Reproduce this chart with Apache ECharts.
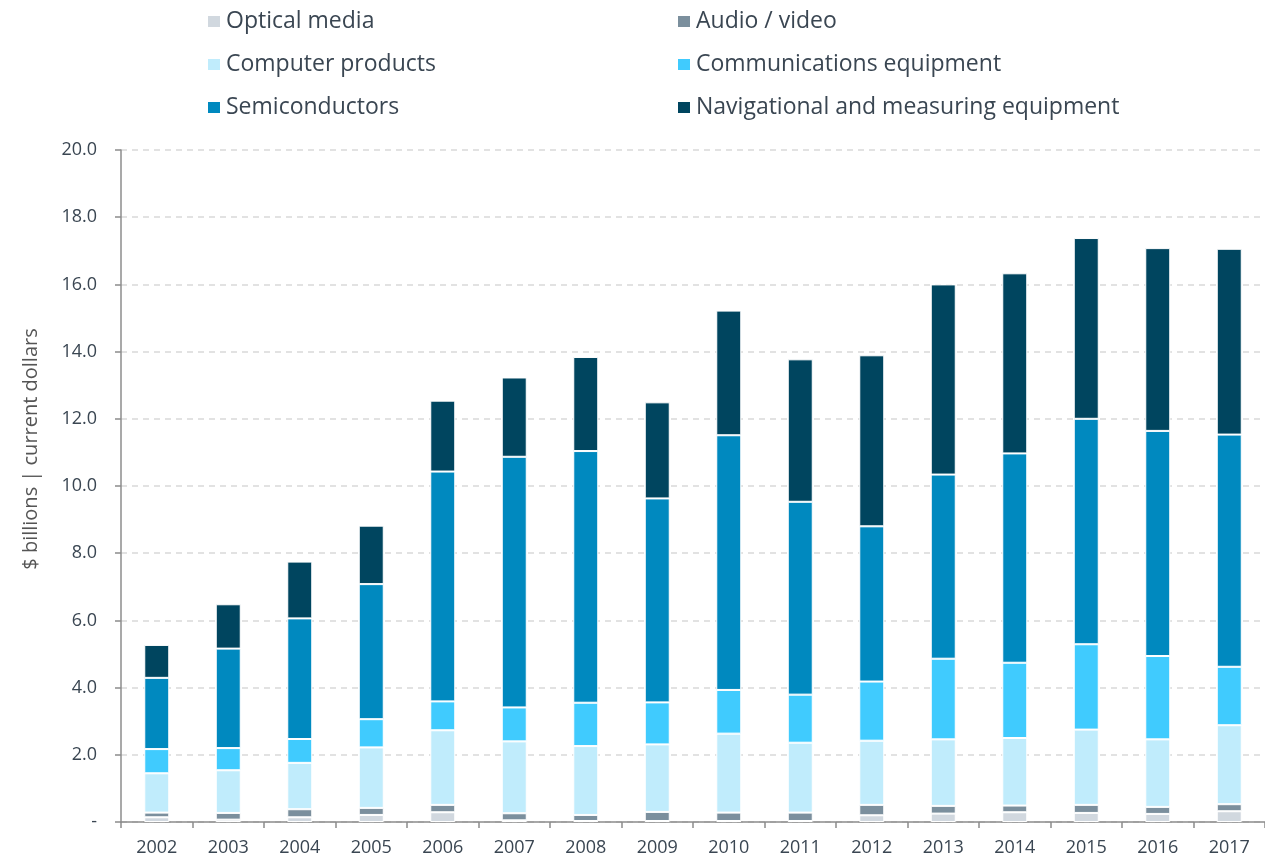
<!DOCTYPE html>
<html><head><meta charset="utf-8">
<script src="https://cdn.jsdelivr.net/npm/echarts@6/dist/echarts.min.js"></script>
<style>html,body{margin:0;padding:0;background:#fff}#c{width:1265px;height:860px}</style>
</head><body><div id="c"></div>
<script>
const years = ['2002','2003','2004','2005','2006','2007','2008','2009','2010','2011','2012','2013','2014','2015','2016','2017'];
const opticalMedia   = [0.14,0.07,0.14,0.21,0.29,0.05,0.03,0.03,0.03,0.03,0.20,0.25,0.29,0.27,0.24,0.32];
const audioVideo     = [0.14,0.20,0.24,0.21,0.22,0.21,0.18,0.27,0.25,0.25,0.31,0.23,0.20,0.24,0.21,0.21];
const computerProducts = [1.17,1.27,1.38,1.80,2.22,2.14,2.05,2.01,2.35,2.08,1.91,1.98,2.01,2.24,2.01,2.35];
const commEquipment  = [0.72,0.66,0.71,0.84,0.86,1.01,1.29,1.25,1.30,1.43,1.76,2.40,2.24,2.54,2.48,1.74];
const semiconductors = [2.12,2.96,3.59,4.02,6.84,7.46,7.49,6.07,7.58,5.74,4.62,5.48,6.23,6.71,6.70,6.91];
const navMeasuring   = [0.98,1.32,1.69,1.74,2.11,2.36,2.80,2.86,3.71,4.24,5.09,5.66,5.36,5.38,5.44,5.53];
const yTicks = ['-','2.0','4.0','6.0','8.0','10.0','12.0','14.0','16.0','18.0','20.0'];

const seriesDefs = [
  ['Optical media', opticalMedia, '#d1d8df'],
  ['Audio / video', audioVideo, '#7b8f9d'],
  ['Computer products', computerProducts, '#c0ecfc'],
  ['Communications equipment', commEquipment, '#40cbfe'],
  ['Semiconductors', semiconductors, '#0089bf'],
  ['Navigational and measuring equipment', navMeasuring, '#00455f']
];
const font = 'Open Sans';
const txt = '#3a4652';
const chart = echarts.init(document.getElementById('c'));
const legendCommon = {
  orient: 'vertical', itemWidth: 14, itemHeight: 13, itemGap: 20, icon: 'rect',
  textStyle: {fontFamily: font, fontSize: 23, color: txt, lineHeight: 23},
  selectedMode: false
};
chart.setOption({
  animation: false,
  color: seriesDefs.map(d => d[2]),
  legend: [
    Object.assign({left: 201, top: 5, data: ['Optical media','Computer products','Semiconductors']}, legendCommon),
    Object.assign({left: 671, top: 5, data: ['Audio / video','Communications equipment','Navigational and measuring equipment']}, legendCommon)
  ],
  grid: {left: 121, right: 0, top: 150, bottom: 38},
  xAxis: {
    type: 'category', data: years,
    axisLine: {lineStyle: {color: '#8c8c8c', width: 1.5}},
    axisTick: {show: true, length: 6, lineStyle: {color: '#8c8c8c', width: 1.5}},
    axisLabel: {fontFamily: font, fontSize: 18, color: txt, margin: 17}
  },
  yAxis: {
    type: 'value', min: 0, max: 20, interval: 2,
    name: '$ billions | current dollars', nameLocation: 'middle', nameGap: 80, nameRotate: 90,
    nameTextStyle: {fontFamily: font, fontSize: 20, color: '#555', padding: [0,0,0,74]},
    axisLine: {show: true, lineStyle: {color: '#8c8c8c', width: 1.5}},
    axisTick: {show: true, length: 6, lineStyle: {color: '#8c8c8c', width: 1.5}},
    axisLabel: {fontFamily: font, fontSize: 18, color: txt, margin: 24,
      formatter: (v) => yTicks[Math.round(v/2)]},
    splitLine: {lineStyle: {color: '#d9d9d9', width: 1.5, type: [6,5]}}
  },
  series: seriesDefs.map(d => ({
    name: d[0], type: 'bar', stack: 'total', data: d[1], barWidth: 25,
    itemStyle: {color: d[2], borderColor: '#ffffff', borderWidth: 1}
  }))
});
</script></body></html>
